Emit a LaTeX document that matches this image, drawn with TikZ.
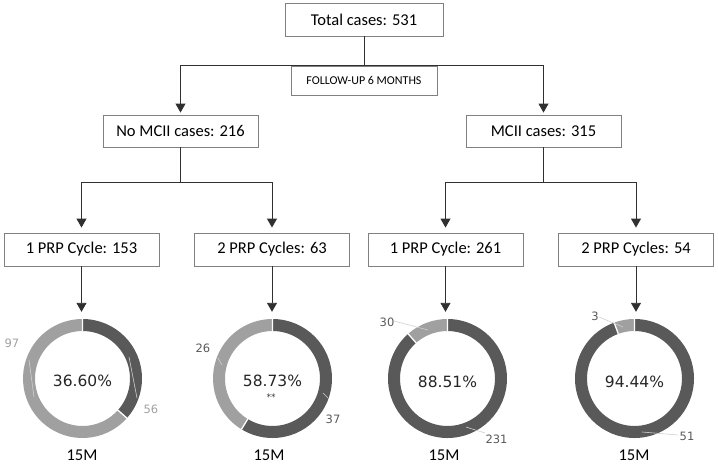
\documentclass[tikz,border=0pt]{standalone}
\usepackage{fontspec}
\setmainfont{Carlito}
\newfontfamily\verd{DejaVu Sans}
\usetikzlibrary{arrows.meta}
\definecolor{segdark}{HTML}{595959}
\definecolor{seglight}{HTML}{A0A0A0}
\definecolor{boxline}{HTML}{808080}
\definecolor{conn}{HTML}{303030}
\definecolor{leadc}{HTML}{D0D0D0}
\tikzset{
  box/.style={draw=boxline, line width=0.9pt, minimum width=155pt, minimum height=33pt, inner sep=0pt, font=\fontsize{16.5}{19}\selectfont},
  arr/.style={draw=conn, line width=0.9pt, -{Triangle[length=9pt,width=10pt]}},
  conline/.style={draw=conn, line width=0.9pt},
  ringnode/.style={circle, minimum size=119pt, inner sep=0pt},
  pct/.style={font=\verd\fontsize{15.5}{18}\selectfont, text=black!85},
  lbl/.style={font=\verd\fontsize{11.5}{13}\selectfont, text=segdark},
  lbllight/.style={lbl, text=seglight},
  mlab/.style={font=\fontsize{16.5}{19}\selectfont},
  leader/.style={draw=leadc, line width=0.6pt},
}
\newcommand\donutring[2]{%
  \begin{scope}[shift={(#1.center)}]
    \fill[segdark] (90:59.5) arc[start angle=90,end angle=#2,radius=59.5] -- (#2:47.5) arc[start angle=#2,end angle=90,radius=47.5] -- cycle;
    \fill[seglight] (#2:59.5) arc[start angle=#2,end angle=-270,radius=59.5] -- (-270:47.5) arc[start angle=-270,end angle=#2,radius=47.5] -- cycle;
    \draw[white, line width=1.3pt] (90:47) -- (90:60) (#2:47) -- (#2:60);
  \end{scope}}
\begin{document}
\begin{tikzpicture}[x=1pt,y=1pt]
\useasboundingbox (0,0) rectangle (718,-464);
% boxes
\node[box, minimum width=158pt] (total) at (364,-19.5) {Total cases: 531};
\node[box, minimum width=146pt, minimum height=29pt, font=\fontsize{12}{14}\selectfont] (follow) at (364,-80.5) {FOLLOW-UP 6 MONTHS};
\node[box, minimum height=32pt] (nomci) at (180.5,-131) {No MCII cases: 216};
\node[box, minimum height=32pt] (mci) at (543.5,-131) {MCII cases: 315};
\node[box] (c1) at (81.5,-249.5) {1 PRP Cycle: 153};
\node[box] (c2) at (272,-249.5) {2 PRP Cycles: 63};
\node[box] (c3) at (445.5,-249.5) {1 PRP Cycle: 261};
\node[box] (c4) at (636,-249.5) {2 PRP Cycles: 54};
% donut placeholders
\node[ringnode] (d1) at (82.5,-378.5) {};
\node[ringnode] (d2) at (272.5,-378.5) {};
\node[ringnode] (d3) at (447.5,-378.5) {};
\node[ringnode] (d4) at (634.5,-378.5) {};
% connectors
\coordinate (j1) at (180.5,-182);
\coordinate (j2) at (543.5,-182);
\draw[conline] (total.south) -- (follow.north);
\draw[arr, shorten >=2pt] (follow.north) -| (nomci.north);
\draw[arr, shorten >=2pt] (follow.north) -| (mci.north);
\draw[conline] (nomci.south) -- (j1);
\draw[conline] (mci.south) -- (j2);
\draw[arr, shorten >=5pt] (j1) -| (c1.north);
\draw[arr, shorten >=5pt] (j1) -| (c2.north);
\draw[arr, shorten >=5pt] (j2) -| (c3.north);
\draw[arr, shorten >=5pt] (j2) -| (c4.north);
\draw[arr, shorten >=7pt] (c1.south) -- (c1.south |- d1.north);
\draw[arr, shorten >=7pt] (c2.south) -- (c2.south |- d2.north);
\draw[arr, shorten >=7pt] (c3.south) -- (c3.south |- d3.north);
\draw[arr, shorten >=7pt] (c4.south) -- (c4.south |- d4.north);
% rings
\donutring{d1}{-41.76}
\donutring{d2}{-121.43}
\donutring{d3}{-228.62}
\donutring{d4}{-250}
% leader lines
\draw[leader] (29,-360) -- (34,-397);
\draw[leader] (129,-357) -- (137,-398);
\draw[leader] (218,-358) -- (222,-365);
\draw[leader] (323,-393) -- (328,-398);
\draw[leader] (394,-321) -- (428,-330);
\draw[leader] (466,-427) -- (485,-433);
\draw[leader] (599,-317) -- (623,-327);
\draw[leader] (642,-432) -- (678,-435);
% value labels
\node[lbllight] (l97) at (12,-343) {97};
\node[lbllight] (l56) at (151,-409) {56};
\node[lbl] (l26) at (203,-348) {26};
\node[lbl] (l37) at (333,-419) {37};
\node[lbl] (l30) at (387,-322) {30};
\node[lbl] (l231) at (496.5,-439) {231};
\node[lbl] (l3) at (595,-316) {3};
\node[lbl] (l51) at (687,-436) {51};
% percentages
\node[pct] (p1) at (82.5,-381) {36.60\%};
\node[pct] (p2) at (272.5,-381) {58.73\%};
\node[font=\verd\fontsize{9}{10}\selectfont, text=black!80] (p2s) at (271,-397.5) {**};
\node[pct] (p3) at (447.5,-382) {88.51\%};
\node[pct] (p4) at (634.5,-382) {94.44\%};
% bottom labels
\node[mlab] (m1) at (82,-455) {15M};
\node[mlab] (m2) at (269,-455) {15M};
\node[mlab] (m3) at (444,-455) {15M};
\node[mlab] (m4) at (634,-455) {15M};
\end{tikzpicture}
\end{document}
